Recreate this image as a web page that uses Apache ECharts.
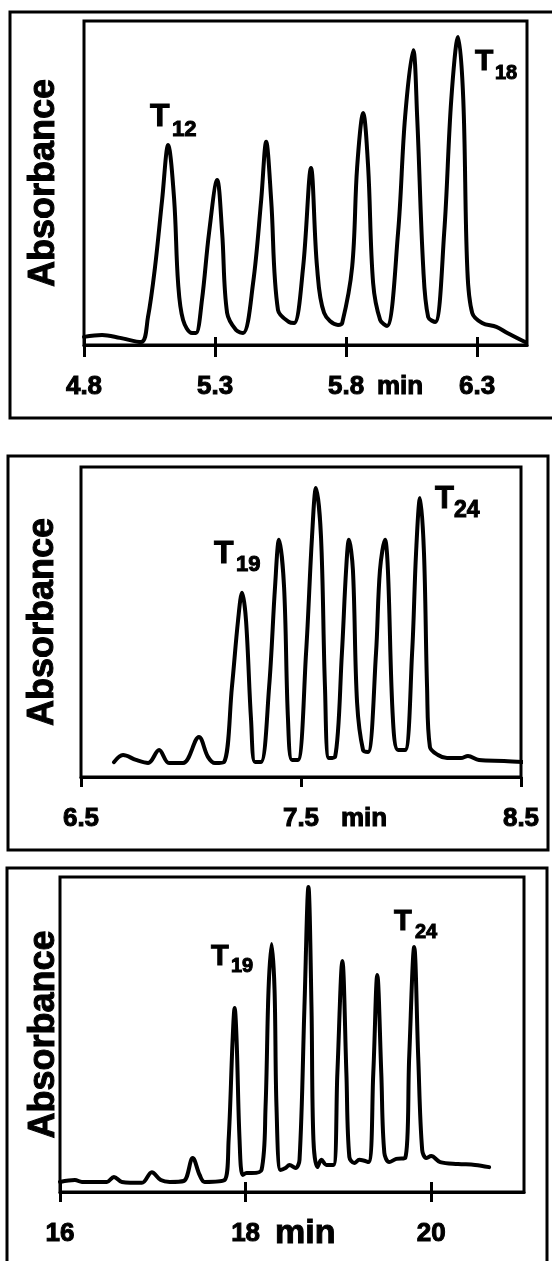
<!DOCTYPE html>
<html>
<head>
<meta charset="utf-8">
<script src="https://cdn.jsdelivr.net/npm/echarts@6/dist/echarts.min.js"></script>
<style>
  html, body { margin: 0; padding: 0; background: #fff; }
  #chart { width: 552px; height: 1261px; }
</style>
</head>
<body>
<div id="chart"></div>
<script>
const FONT = '"Liberation Sans", Arial, sans-serif';

// panel 1: T12 .. T18
const time1 = [4.800, 4.869, 4.937, 5.018,
  5.044, 5.071, 5.098, 5.121, 5.144, 5.159, 5.178, 5.212, 5.227,
  5.250, 5.277, 5.308, 5.327, 5.346, 5.380, 5.407,
  5.445, 5.476, 5.495, 5.514, 5.540, 5.582, 5.602,
  5.636, 5.666, 5.689, 5.716, 5.769, 5.785,
  5.823, 5.842, 5.865, 5.884, 5.903, 5.930, 5.956,
  5.998, 6.025, 6.056, 6.071, 6.094, 6.113, 6.140,
  6.174, 6.201, 6.227, 6.247, 6.262, 6.281, 6.319, 6.373, 6.415, 6.483];
const abs1 = [2.5, 3.1, 2.2, 0.9,
  8.6, 24.1, 44.8, 61.7, 44.8, 19.1, 7.7, 3.7, 3.7,
  13.9, 34.6, 50.9, 34.6, 9.9, 4.6, 3.7,
  19.1, 44.8, 62.7, 44.8, 10.8, 7.1, 6.8,
  24.1, 54.6, 24.1, 9.9, 6.2, 6.8,
  24.1, 54.9, 71.6, 54.9, 19.1, 7.7, 5.9,
  34.6, 70.4, 91.0, 70.4, 24.1, 8.6, 7.1,
  34.6, 75.6, 95.1, 75.6, 24.1, 9.9, 6.8, 5.6, 3.7, 0.9];
const ticks1 = [4.8, 5.3, 5.8, 6.3];

// panel 2: T19 .. T24, 6.5 - 8.5 min
const time2 = [6.650, 6.691, 6.750, 6.805, 6.855, 6.900, 6.964, 7.036, 7.077, 7.109, 7.150,
  7.186, 7.214, 7.232, 7.250, 7.273, 7.291, 7.318,
  7.355, 7.382, 7.400, 7.423, 7.441, 7.459, 7.486,
  7.523, 7.550, 7.568, 7.591, 7.609, 7.627, 7.655,
  7.686, 7.705, 7.718, 7.736, 7.755, 7.782, 7.805,
  7.841, 7.859, 7.882, 7.895, 7.918, 7.941, 7.973,
  8.005, 8.023, 8.041, 8.059, 8.073, 8.086, 8.123, 8.164, 8.227, 8.259, 8.309, 8.423, 8.515];
const abs2 = [4.8, 7.1, 5.5, 4.5, 8.7, 4.5, 4.5, 12.9, 6.5, 4.5, 4.8,
  29.0, 50.6, 59.4, 50.6, 18.4, 4.8, 4.8,
  29.0, 61.3, 76.5, 61.3, 18.4, 5.5, 5.5,
  40.0, 77.4, 93.2, 77.4, 29.0, 6.1, 6.5,
  40.0, 66.8, 76.5, 66.8, 23.9, 8.7, 8.1,
  40.0, 66.8, 76.5, 66.8, 18.4, 8.7, 8.7,
  40.0, 72.3, 90.0, 72.3, 29.0, 9.7, 7.1, 6.1, 6.1, 6.8, 5.5, 5.2, 4.8];
const ticks2 = [6.5, 7.5, 8.5];

// panel 3: T19 .. T24, 16 - 21 min
const time3 = [16.00, 16.161, 16.237, 16.505, 16.581, 16.667, 16.882, 16.989, 17.086, 17.183,
  17.333, 17.430, 17.505, 17.559, 17.774,
  17.817, 17.860, 17.882, 17.903, 17.935, 17.968, 18.011, 18.065, 18.172,
  18.215, 18.247, 18.280, 18.312, 18.333, 18.376, 18.430, 18.473, 18.538, 18.581,
  18.634, 18.677, 18.710, 18.731, 18.774, 18.817, 18.871, 18.946,
  18.989, 19.043, 19.086, 19.118, 19.172, 19.226, 19.323,
  19.376, 19.419, 19.462, 19.495, 19.548, 19.624, 19.720,
  19.763, 19.817, 19.860, 19.903, 19.946, 20.000, 20.097, 20.290, 20.473, 20.624];
const abs3 = [3.2, 3.8, 3.2, 3.2, 4.8, 3.2, 2.9, 6.3, 3.8, 3.2,
  3.5, 10.8, 5.4, 3.2, 3.8,
  16.5, 48.3, 58.4, 48.3, 16.5, 5.4, 6.0, 6.0, 7.0,
  27.0, 64.1, 78.7, 64.1, 27.0, 7.0, 7.6, 8.6, 7.6, 10.2,
  58.7, 96.8, 58.7, 16.5, 7.9, 10.2, 8.6, 8.6,
  37.8, 73.3, 37.8, 11.1, 9.2, 10.2, 9.5,
  37.8, 68.9, 37.8, 12.4, 9.5, 10.5, 10.8,
  42.9, 77.8, 42.9, 13.3, 10.8, 11.4, 9.5, 8.9, 8.6, 7.9];
const ticks3 = [16, 18, 20];

const panels = [
  { t: time1, a: abs1, ticks: ticks1, min: 4.8, max: 6.49, dec: 1, tickUp: 8, tickDown: 12, nameGap: 22,
    grid: { left: 84, top: 21, width: 443, height: 324 } },
  { t: time2, a: abs2, ticks: ticks2, min: 6.5, max: 8.5, dec: 1, tickUp: 0, tickDown: 10, nameGap: 20,
    grid: { left: 81, top: 467, width: 440, height: 310 } },
  { t: time3, a: abs3, ticks: ticks3, min: 16, max: 21, dec: 0, tickUp: 10, tickDown: 10, nameGap: -2,
    grid: { left: 60, top: 877, width: 464, height: 315 } }
];

const chart = echarts.init(document.getElementById('chart'), null, { renderer: 'canvas' });

// the scanned lettering is heavier than plain bold, so give it a thin outline
const heavy = { textBorderColor: '#000', textBorderWidth: 1 };

const grid = [], xAxis = [], yAxis = [], series = [];
panels.forEach((p, i) => {
  grid.push(Object.assign({ show: true, borderColor: '#000', borderWidth: 3, backgroundColor: 'transparent' }, p.grid));
  xAxis.push({
    gridIndex: i, type: 'value', min: p.min, max: p.max, position: 'bottom',
    axisLine: { show: true, onZero: false, lineStyle: { color: '#000', width: 3 } },
    axisTick: { show: true, inside: false, length: p.tickDown, customValues: p.ticks, lineStyle: { color: '#000', width: 3 } },
    axisLabel: Object.assign({
      customValues: p.ticks, margin: 29, color: '#000', fontSize: 26, fontWeight: 'bold', fontFamily: FONT,
      formatter: v => v.toFixed(p.dec)
    }, heavy),
    splitLine: { show: false }
  });
  // short tick part above the axis line
  xAxis.push({
    gridIndex: i, type: 'value', min: p.min, max: p.max, position: 'bottom',
    axisLine: { show: false },
    axisTick: { show: p.tickUp > 0, inside: true, length: p.tickUp, customValues: p.ticks, lineStyle: { color: '#000', width: 3 } },
    axisLabel: { show: false },
    splitLine: { show: false }
  });
  yAxis.push({
    gridIndex: i, type: 'value', min: 0, max: 100,
    axisLine: { show: false }, axisTick: { show: false }, axisLabel: { show: false }, splitLine: { show: false },
    name: 'Absorbance', nameLocation: 'middle', nameRotate: 90, nameGap: p.nameGap,
    nameTextStyle: Object.assign({ color: '#000', fontSize: 36, fontWeight: 'bold', fontFamily: FONT }, heavy)
  });
  series.push({
    type: 'line', xAxisIndex: i * 2, yAxisIndex: i,
    data: p.t.map((t, k) => [t, p.a[k]]),
    showSymbol: false, smooth: 0.35, clip: false,
    lineStyle: { color: '#000', width: 4, join: 'round', cap: 'round' },
    silent: true
  });
});

function txt(x, y, text, size) {
  return { type: 'text', x: x, y: y, silent: true,
    style: { text: text, fill: '#000', stroke: '#000', lineWidth: 1, fontSize: size, fontWeight: 'bold',
      fontFamily: FONT, align: 'left', verticalAlign: 'middle' } };
}
function box(x, y, w, h) {
  return { type: 'rect', silent: true, shape: { x: x, y: y, width: w, height: h },
    style: { fill: 'none', stroke: '#000', lineWidth: 3 } };
}

const graphic = [
  box(10, 12, 560, 406),
  box(8, 456, 540, 394),
  box(7, 868, 540, 410),
  // peak names
  txt(150, 117, 'T', 32), txt(172, 130, '12', 22),
  txt(475, 62, 'T', 30), txt(495, 73, '18', 20),
  txt(214, 554, 'T', 32), txt(236, 565, '19', 22),
  txt(435, 499, 'T', 31), txt(454, 511, '24', 23),
  txt(211, 957, 'T', 29), txt(231, 966, '19', 20),
  txt(394, 922, 'T', 29), txt(415, 932, '24', 20),
  // axis unit
  txt(377, 387, 'min', 26),
  txt(341, 819, 'min', 26),
  txt(275, 1234, 'min', 34)
];

chart.setOption({
  backgroundColor: '#fff',
  animation: false,
  grid: grid,
  xAxis: xAxis,
  yAxis: yAxis,
  series: series,
  graphic: graphic
});
</script>
</body>
</html>
